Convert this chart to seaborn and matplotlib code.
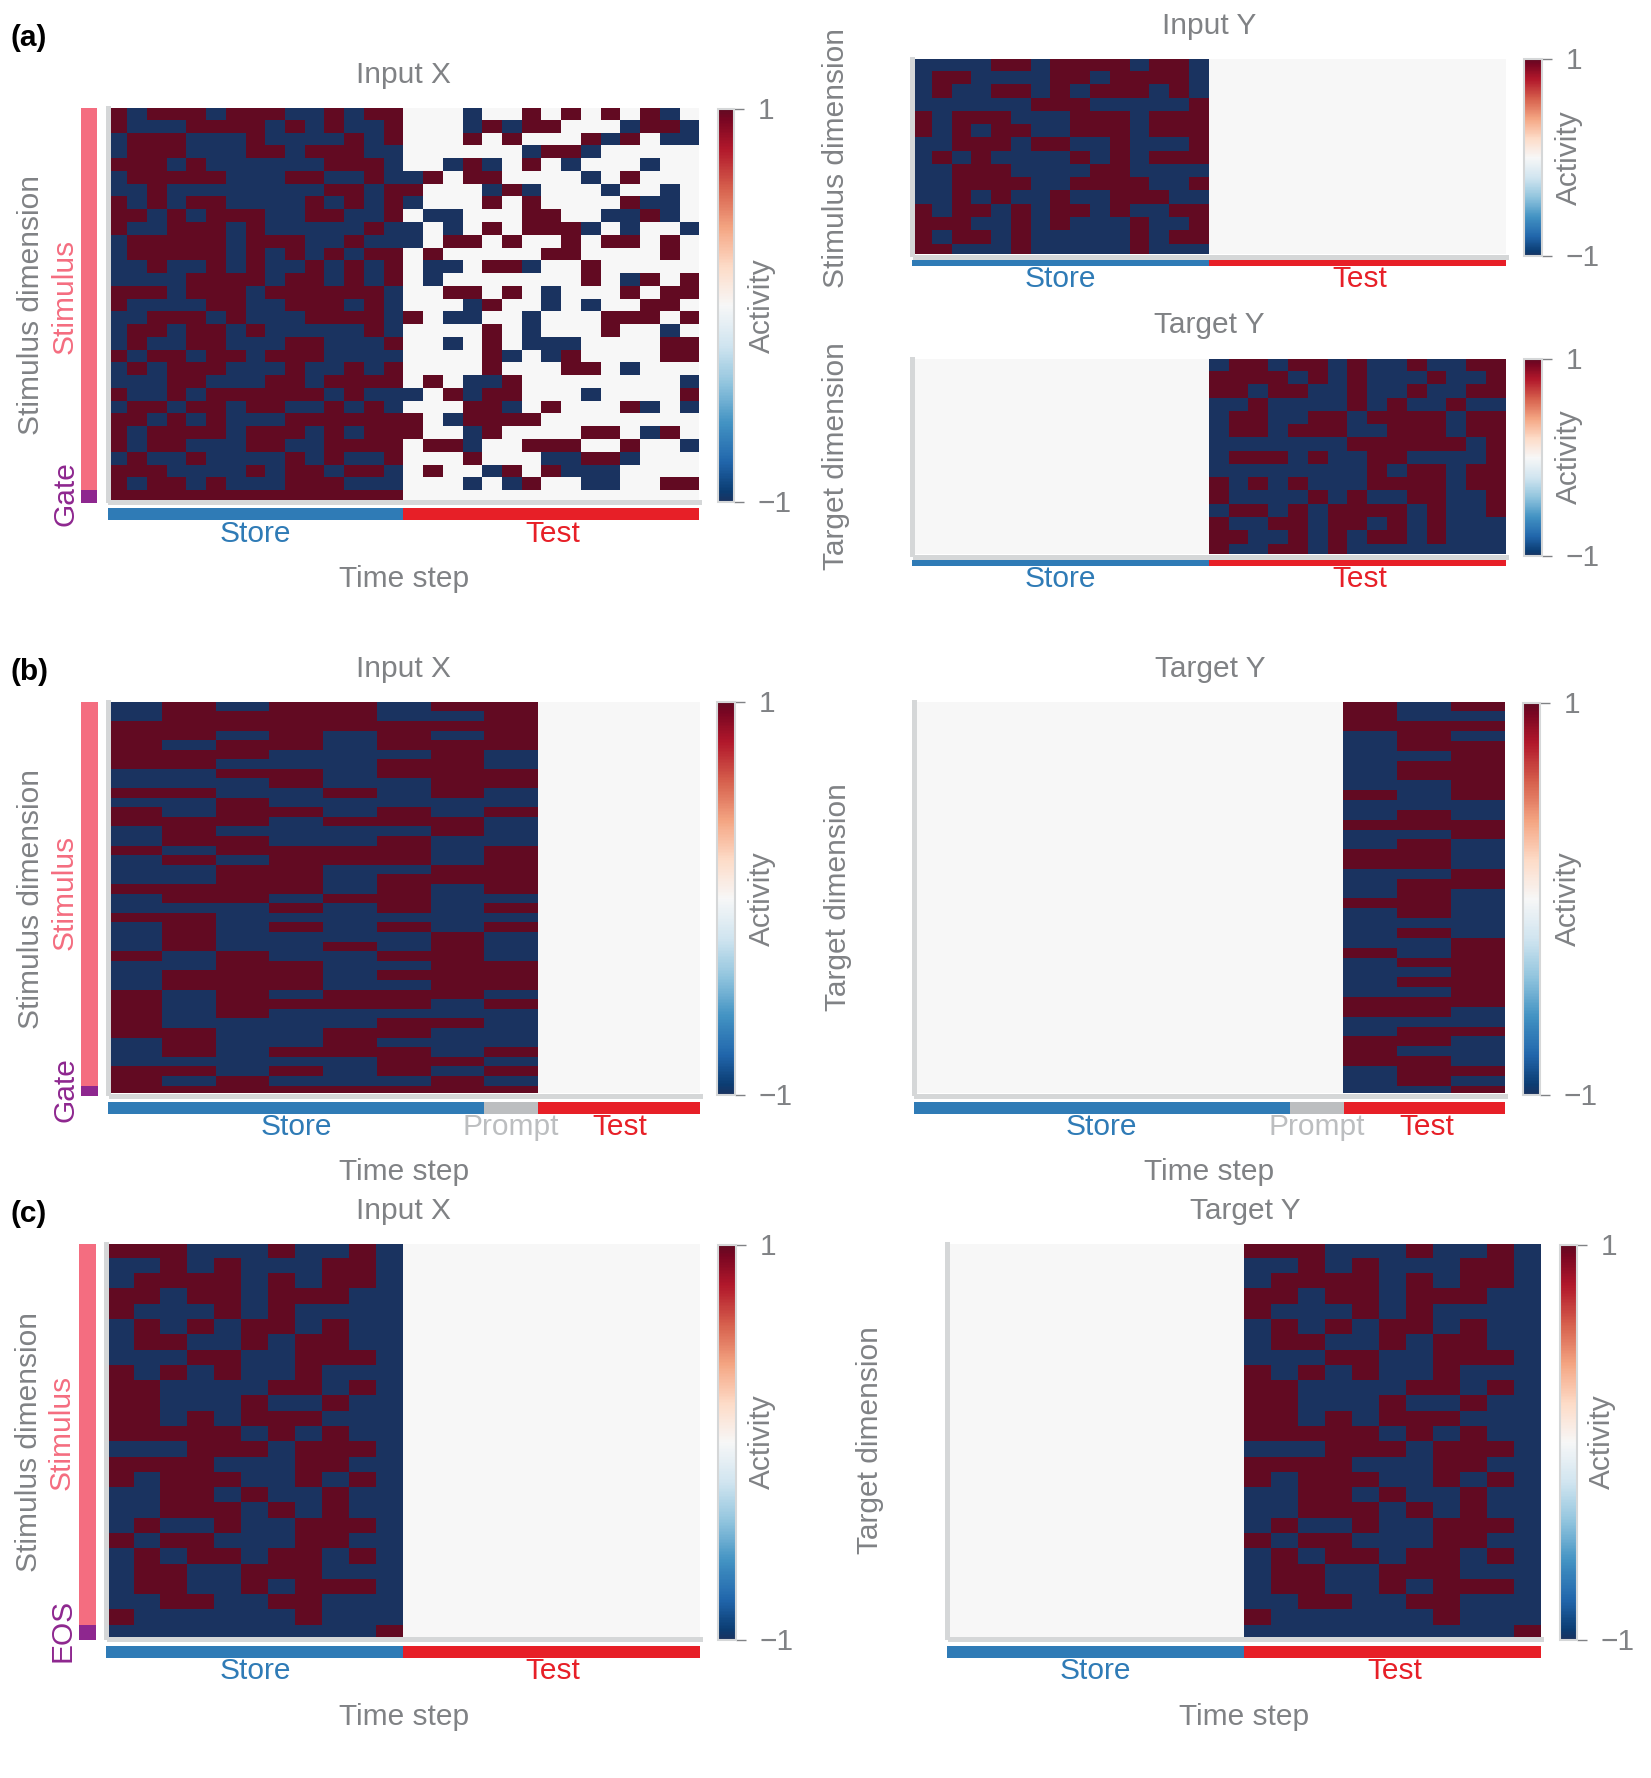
import numpy as np
import pandas as pd
import seaborn as sns
import matplotlib
matplotlib.use("Agg")
import matplotlib.pyplot as plt
from matplotlib.colors import LinearSegmentedColormap
from matplotlib.transforms import Affine2D

# ---------- data: R = +1, B = -1, 0 = 0 ----------
a_input_x_store = """RBRRRBRRRBBRBRR RBBBRRRRBRBRBBR BRRRBBBRBBBBRBR BRRRBBBRRBRRRBB RRRBRBBBBBBRRRB
BRRRRRBBBRRBBRB BBRBBBBBBBBRRBR RBRBRRBBBBRBRBR RRBRBRRRBBRRBBR RBBRRRBRBBBBBRB
BRRRRRBRRRBBRBB BRRRRRBRBRBRBRR BBRBBRBRBBRBRBR BBBBRRRRBRRBRBR RRRBRRRBRRRRRRB
RBBBBRRBBRRRBRB BBRRRBRBBBRRRRB BRRBRRBRBBBBBRB BRBBRRBBBRRBBBR RBRRBRRBRRRBBBB
BRBRRRBBBRBBRBR BBBRRBBBRRBRRRR RBBRBRRRRRRBRBB BRRBRRBRRBBRBRB RRBRBRBBBRRRRRR
RBRRRRBRRRBRBRR RBRRBBBRRBBRRRR BRBBRBBBBRBRBBR RRRBBBBRBRRBRRB RBRRBRBBBRRRBBB
RRRRRRRRRRRRRRR""".split()
a_input_x_test = """000B00R0R0R0RB0 000BRBRR000BRRB 000R0R000RBR0BB 000000BRRB00000 00BRB0R0B000B00
BR0RR0000B0R000 R000BRB000B00B0 B000R0R0000RBB0 0BB000RR00BBRB0 B0B0R0RRRB0B00B
B0RR0R00R0RR0R0 0R00000RR0000R0 0BB0RRB00R00000 0B0000000R0BR0R 00RR0R0B000R0RR
000BR00B0B00RR0 R0BB00B000RRR0R 0000R0B000R00B0 00B0R0BBB0000RR 0000RB0BR0000RR
0000R000RR0B000 0R0BBR00000000B B0RBRR000B0000R 000RRB0R000RB0B R0BRRRR00000000
R00BR0000RR0BR0 0RRB00RRR00R00B 000R000BBRRB000 0R00BR0RBBB0000 000B0BR00BB00RR
000000000000000""".split()
a_input_y_store = """BBBBRRBRRRRBRRB BRRBBBBRRBRRRRB BRBBRRBRBRRRBRB BBBBBBRRRBBBBBR RBRRRBBBRRRBRRR
RBRBRRBBRRRBRRR BBRRRBRRBBRBBBR BRBRBBBBRBRBRRR BBRRRBBBBRRBBBB BBRRRRBBRRRRBBR
BBRBRBBRBBRRRBB RBRRBRBRRBRBBRR RRRBBRBRBBBRBBR RBRRBRBBBBBRBRR RRBBBRBBBBBRBBB""".split()
a_target_y_test = """BRRBRRBRBBRBBRR RRRRBRBRBBBRBBR RRBRRBBRBBRBBRR BBRBBBBRBRBBRBB BRRBBRRBRRRRBRR
BRRBRRRBBRRRBRR BBBBBBBRRRRRRBR BRRRBRBBRRBBBBR BBBBBBBBRBRRBRR RBRBRBBBRRRRBRR
RBBBBRBRBBRRBBR BRRBRBRRRRBRBBR RBBRRBRRBRBRBBB RRBBRBRBRRBRBBB RBBRRBRBBBBBBBB""".split()
b_input_x_store = """BRBRRBRR BRRRRBBR RRRRRRRR RRBRBRBR RBRRBRRR RRRBBBRB RRBBBRRB BBRRBRRR BBBRBBRR
RRBBRBRB BBRBBBBB RBRRBRBR RRRBRRRB BRBBBBRB BRRBBRBB RBRRRRBR BRBRRRBR BBRRBBRR
BBRRBRRR RRRRBRBR BRRBRRBB BBBRBRBR RRBBBBBB BRBRBRBR BRBBBBRB BRBBRBRB RBRBBRRB
BBRRBBRR BRRRBRRR BRRRBBRR RBRBRRRB RBRRRRBR RBRBBBBB RBBBBRRB RRBBRRBB BRBBRBBB
BRBRRRBR BBBBBRRB RRBRBRBR RBRBBBRB RRRRRRRR""".split()
b_target_y_test = """RBR RBB RRR BRB BRR BBR BRR BRR BBR RBR BBB BRB RRR BBR BRB RRB RRB BBR BRR BRB
RRB BRB BBB BRB BBR RBR BRR BBR BRR BBR RRR RRB BBB BRR RRB RBB RRB BRR BRB BBR""".split()
c_store = """RRRBBBRBBRB BBRBRBBBRRB BRRRRBRBRRB RRBRRBRRRBB RBBBRBRBBBB BRBRBRRBRBB BRRBBRBRRBB
BBBRRBBRRRB RBRBRBBRBBB RRBBBBRRBRB RRBBBRBBRBB RRBRBRRRBBB RRRRRBRBRBB BBBRRRBRRRB
RRRRBBBRRBB RBRRRBBRBRB BBRRBRBBRBB BBRRRBRBRBB BRBBRBBRRRB RBRRBBBRRBB BRBRRBRRBRB
BRRBBRRRBBB BRRBBRBRRRB BBRRBBRRBBB RBBBBBBRBBB BBBBBBBBBBR""".split()

phase_colors = {"Store": "#2f7bb6", "Prompt": "#bcbec0", "Test": "#e71f27",
                "Stimulus": "#f46d80", "Gate": "#8e278f", "EOS": "#8e278f"}
GRAY = "#808285"
SPINE = "#d5d7d8"
W, H = 1651, 1778
DY = 2.3   # horizontal text: optical centring
DX = 3.0   # rotated text: optical centring

sns.set_theme(style="white")
plt.rcParams["font.family"] = ["Liberation Sans", "DejaVu Sans"]
plt.rcParams["axes.unicode_minus"] = True
FS = 21.5

base = plt.get_cmap("RdBu_r")
stops = [base(v) for v in np.linspace(0, 1, 41)]
stops[0] = "#1a3360"
stops[-1] = "#620a22"
stops[20] = "#f7f7f7"
cmap = LinearSegmentedColormap.from_list("rdbu_soft", stops, N=257)

fig = plt.figure(figsize=(W / 100 + 1e-6, H / 100 + 1e-6), dpi=100, facecolor="white")
PX = Affine2D().scale(1 / W, -1 / H).translate(0, 1) + fig.transFigure


def box(l, t, r, b):
    return fig.add_axes([l / W, 1 - b / H, (r - l) / W, (b - t) / H])


def decode(rows):
    code = {"R": 1, "B": -1, "0": 0}
    return np.array([[code[c] for c in row] for row in rows], dtype=float)


def blank(nrows, ncols):
    return ["0" * ncols] * nrows


def join(left, right):
    return [a + b for a, b in zip(left, right)]


def panel(matrix, frame, xlim, ylim, cbar_box, title, title_xy, ylabel, ylabel_xy,
          activity_xy, strip_box, phases, phase_labels, xlabel_xy=None, side=None):
    l, t, r, b = frame
    ax = box(l, t, r, b)
    cax = box(*cbar_box)
    sns.heatmap(pd.DataFrame(matrix), cmap=cmap, vmin=-1, vmax=1, ax=ax, cbar_ax=cax,
                xticklabels=False, yticklabels=False, cbar_kws={"ticks": [-1, 1]})
    ax.set_xlim(*xlim)
    ax.set_ylim(*ylim)
    ax.tick_params(length=0)
    for name in ("left", "bottom"):
        sp = ax.spines[name]
        sp.set_visible(True)
        sp.set_color(SPINE)
        sp.set_linewidth(3.6)
        sp.set_position(("outward", 1.8))
    for name in ("top", "right"):
        ax.spines[name].set_visible(False)
    ax.set_title(title, x=title_xy[0], y=title_xy[1] + DY, transform=PX, color=GRAY,
                 fontsize=FS, va="center", ha="center")
    ax.set_ylabel(ylabel, color=GRAY, fontsize=FS, va="center", ha="center")
    ax.yaxis.set_label_coords(ylabel_xy[0] + DX, ylabel_xy[1], transform=PX)
    if xlabel_xy is not None:
        ax.set_xlabel("Time step", color=GRAY, fontsize=FS, va="center", ha="center")
        ax.xaxis.set_label_coords(xlabel_xy[0], xlabel_xy[1] + DY, transform=PX)
    else:
        ax.set_xlabel("")

    cbar = ax.collections[0].colorbar
    cbar.outline.set_edgecolor(SPINE)
    cbar.outline.set_linewidth(1.5)
    cax.yaxis.set_ticks_position("right")
    cax.tick_params(axis="y", length=7, width=1, color=GRAY, labelcolor=GRAY,
                    labelsize=FS, pad=9.8, right=True)
    for tick in cax.yaxis.get_major_ticks():
        tick.label2.set_verticalalignment("center")
        tick.label2.set_transform(tick.label2.get_transform() + Affine2D().translate(0, -1.6))
    cbar.set_label("Activity", color=GRAY, fontsize=FS, va="center", ha="center", rotation=90)
    cax.yaxis.set_label_coords(activity_xy[0] + DX, activity_xy[1], transform=PX)

    # phase strip under the heatmap
    sx = box(*strip_box)
    left = 0
    for name, n in phases:
        sx.barh([0], [n], left=left, height=1, color=phase_colors[name], linewidth=0)
        left += n
    sx.set_xlim(0, left)
    sx.set_ylim(-0.5, 0.5)
    sx.axis("off")
    for name, x, y in phase_labels:
        fig.text(x, y + DY, name, transform=PX, color=phase_colors[name], fontsize=FS,
                 ha="center", va="center")

    # input-dimension strip left of the heatmap
    if side is not None:
        sb = box(*side["box"])
        top = 0
        for name, n in side["parts"]:
            sb.bar([0], [n], bottom=top, width=1, color=phase_colors[name], linewidth=0)
            top += n
        sb.set_ylim(top, ylim[1])
        sb.set_xlim(-0.5, 0.5)
        sb.axis("off")
        for name, x, y in side["labels"]:
            fig.text(x, y, name, transform=PX, color=phase_colors[name], fontsize=FS,
                     ha="center", va="center", rotation=90)


# ---- (a) ----
panel(decode(join(a_input_x_store, a_input_x_test)), (110, 108, 699.3, 500), (0.13, 30), (30.78, 0.07),
      (718, 109, 734, 502), "Input X", (403, 73), "Stimulus dimension", (28, 305), (759, 306),
      (107.5, 508, 699.3, 520), [("Store", 15), ("Test", 15)],
      [("Store", 255, 532), ("Test", 553, 532)], xlabel_xy=(404, 577),
      side={"box": (81, 108, 97, 502.8), "parts": [("Stimulus", 30), ("Gate", 1)],
            "labels": [("Stimulus", 65, 296), ("Gate", 65, 494)]})
panel(decode(join(a_input_y_store, blank(15, 15))), (914.7, 59, 1505.7, 254.3), (0.14, 30), (14.81, 0.09),
      (1524.3, 59, 1542.3, 256.5), "Input Y", (1209, 24), "Stimulus dimension", (833, 158), (1566, 158),
      (912, 260, 1505.7, 266), [("Store", 15), ("Test", 15)],
      [("Store", 1060, 277), ("Test", 1360, 277)])
panel(decode(join(blank(15, 15), a_target_y_test)), (914.7, 359, 1505.7, 554.3), (0.14, 30), (14.81, 0.09),
      (1524.3, 359, 1542.3, 556.5), "Target Y", (1209, 323), "Target dimension", (833, 456), (1566, 457),
      (912, 560, 1505.7, 566), [("Store", 15), ("Test", 15)],
      [("Store", 1060, 577), ("Test", 1360, 577)])

# ---- (b) ----
panel(decode(join(b_input_x_store, blank(41, 3))), (110.7, 702, 699.6, 1093.3), (0.05, 11), (40.8, 0.03),
      (717, 702, 735, 1095), "Input X", (403, 667), "Stimulus dimension", (28, 899), (759, 899),
      (108, 1102, 699.6, 1114), [("Store", 7), ("Prompt", 1), ("Test", 3)],
      [("Store", 296, 1125), ("Prompt", 511, 1125), ("Test", 620, 1125)], xlabel_xy=(404, 1170),
      side={"box": (81, 702, 98, 1096), "parts": [("Stimulus", 40), ("Gate", 1)],
            "labels": [("Stimulus", 65, 892), ("Gate", 65, 1090)]})
panel(decode(join(blank(40, 8), b_target_y_test)), (916, 702, 1504.7, 1093.3), (0.05, 11), (39.78, 0.05),
      (1523, 703, 1540, 1095), "Target Y", (1210, 667), "Target dimension", (835, 897), (1565, 899),
      (914, 1102, 1504.7, 1114), [("Store", 7), ("Prompt", 1), ("Test", 3)],
      [("Store", 1101, 1125), ("Prompt", 1317, 1125), ("Test", 1427, 1125)], xlabel_xy=(1209, 1170))

# ---- (c) ----
panel(decode(join(c_store, blank(26, 11))), (108.7, 1244, 700, 1637), (0.08, 22), (25.8, 0.09),
      (718, 1245, 736, 1640), "Input X", (403, 1209), "Stimulus dimension", (26, 1442), (759, 1442),
      (106, 1646, 700, 1658), [("Store", 11), ("Test", 11)],
      [("Store", 255, 1669), ("Test", 553, 1669)], xlabel_xy=(404, 1715),
      side={"box": (79.3, 1244, 96, 1640), "parts": [("Stimulus", 25), ("EOS", 1)],
            "labels": [("Stimulus", 62, 1432), ("EOS", 62, 1630)]})
panel(decode(join(blank(26, 11), c_store)), (949.5, 1244, 1541.3, 1637), (0.08, 22), (25.8, 0.09),
      (1560, 1245, 1577, 1640), "Target Y", (1245, 1209), "Target dimension", (867, 1440), (1599, 1442),
      (947, 1646, 1541.3, 1658), [("Store", 11), ("Test", 11)],
      [("Store", 1095, 1669), ("Test", 1395, 1669)], xlabel_xy=(1244, 1715))

for label, y in (("(a)", 36), ("(b)", 670), ("(c)", 1212)):
    fig.text(10, y + DY, label, transform=PX, fontsize=21.5, fontweight="bold", color="black",
             ha="left", va="center")

fig.savefig("out.png", dpi=100, facecolor="white")
